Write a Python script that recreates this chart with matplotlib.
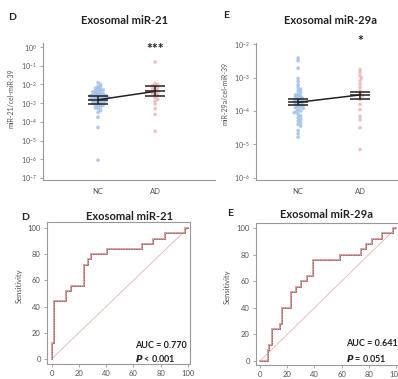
import numpy as np
import matplotlib
matplotlib.use('Agg')
import matplotlib.pyplot as plt
from matplotlib.ticker import FixedLocator, FuncFormatter, NullLocator

plt.rcParams['font.family'] = ['Lato', 'DejaVu Sans']

W, H = 398, 379

# ---------------- data ----------------
groups = ['NC', 'AD']

# exosomal miR-21 / cel-miR-39 (log10 values)
mir21_nc_log = [-1.9, -2.0, -2.1, -2.15, -2.2, -2.25, -2.3, -2.3, -2.35, -2.4, -2.4, -2.45,
                -2.5, -2.5, -2.55, -2.55, -2.6, -2.6, -2.6, -2.65, -2.65, -2.7, -2.7, -2.7,
                -2.75, -2.75, -2.8, -2.8, -2.8, -2.85, -2.85, -2.9, -2.9, -2.95, -2.95,
                -3.0, -3.0, -3.05, -3.1, -3.1, -3.15, -3.2, -3.25, -3.3, -3.4, -3.5,
                -3.75, -4.3, -6.05]
mir21_ad_log = [-0.8, -1.95, -2.0, -2.05, -2.1, -2.15, -2.2, -2.25, -2.3, -2.35, -2.4,
                -2.45, -2.5, -2.55, -2.6, -2.7, -2.8, -2.9, -3.05, -3.3, -3.6, -4.5]
mir21_mean_log = [-2.82, -2.37]
mir21_lo_log = [-3.04, -2.63]
mir21_hi_log = [-2.64, -2.10]

# exosomal miR-29a / cel-miR-39 (log10 values)
mir29a_nc_log = [-2.42, -2.5, -2.72, -3.03, -3.12, -3.22, -3.3, -3.35, -3.4, -3.45, -3.5,
                 -3.52, -3.55, -3.58, -3.6, -3.62, -3.65, -3.68, -3.7, -3.72, -3.75, -3.78,
                 -3.8, -3.82, -3.85, -3.88, -3.9, -3.92, -3.95, -4.0, -4.02, -4.05, -4.1,
                 -4.15, -4.2, -4.25, -4.3, -4.35, -4.4, -4.45, -4.58, -4.68, -4.78]
mir29a_ad_log = [-2.77, -2.85, -2.95, -3.02, -3.1, -3.2, -3.3, -3.4, -3.5, -3.55, -3.65,
                 -3.8, -3.96, -4.16, -4.26, -4.5, -5.15]
mir29a_mean_log = [-3.74, -3.52]
mir29a_lo_log = [-3.82, -3.65]
mir29a_hi_log = [-3.64, -3.42]

# ROC curves (100 - specificity, sensitivity)
roc21_fpr = [0, 0, 1.5, 1.5, 10.5, 10.5, 14, 14, 23.5, 23.5, 26.5, 26.5, 29, 29, 41, 41,
             66, 66, 74.5, 74.5, 83, 83, 97.5, 97.5, 100]
roc21_tpr = [0, 12, 12, 44, 44, 52, 52, 56, 56, 72, 72, 76, 76, 80, 80, 84,
             84, 88, 88, 92, 92, 96, 96, 100, 100]
roc29a_fpr = [0, 6, 6, 7, 7, 8.5, 8.5, 14.5, 14.5, 16, 16, 23, 23, 26.5, 26.5, 30, 30,
              34.5, 34.5, 39, 39, 59, 59, 74, 74, 78, 78, 82, 82, 90, 90, 97.5, 97.5, 100]
roc29a_tpr = [0, 0, 8, 8, 12, 12, 24, 24, 28, 28, 40, 40, 52, 52, 56, 56, 60,
              60, 64, 64, 76, 76, 80, 80, 84, 84, 88, 88, 92, 92, 96, 96, 100, 100]

auc21_text = ['AUC = 0.770', '$\\bfit{P}$ < 0.001']
auc29a_text = ['AUC = 0.641', '$\\bfit{P}$ = 0.051']
roc_ticks = [0, 20, 40, 60, 80, 100]

# ---------------- helpers ----------------
def fig_rect(x0, y0, x1, y1):
    return [x0 / W, 1 - y1 / H, (x1 - x0) / W, (y1 - y0) / H]

def swarm_px(ypx, d, step):
    """Deterministic beeswarm: offsets in pixels so points are >= d apart."""
    ypx = np.asarray(ypx, float)
    order = np.argsort(-ypx)
    placed = []
    offs = np.zeros(len(ypx))
    for i in order:
        cands = [0.0]
        for k in range(1, 30):
            cands += [k * step, -k * step]
        for c in cands:
            ok = all((c - px) ** 2 + (ypx[i] - py) ** 2 >= d * d for px, py in placed)
            if ok:
                offs[i] = c
                placed.append((c, ypx[i]))
                break
    return offs

GRAY = '#999999'
TXT = '#555555'

def sci_fmt(v, pos):
    e = int(round(np.log10(v)))
    return '$\\mathdefault{10^{%d}}$' % e

fig = plt.figure(figsize=(W / 100, H / 100), dpi=100)

def scatter_panel(rect, xlim, ylog, nc, ad, mean, lo, hi, decs, ylabel, ylab_xy, star, star_y):
    ax = fig.add_axes(rect)
    ax.set_yscale('log')
    ax.set_xlim(*xlim)
    ax.set_ylim(10 ** ylog[0], 10 ** ylog[1])
    px_per_dec = rect[3] * H / (ylog[1] - ylog[0])
    unit_px = rect[2] * W / (xlim[1] - xlim[0])
    for i, (vals, col) in enumerate([(nc, '#8fb4e3'), (ad, '#e8a9ab')]):
        ypx = np.asarray(vals) * px_per_dec
        offs = swarm_px(ypx, 2.6, 1.3) / unit_px
        ax.scatter(i + offs, 10 ** np.asarray(vals), s=7, color=col, alpha=0.7,
                   edgecolors='none', zorder=2)
    xs = np.arange(len(groups))
    ax.plot(xs, 10 ** np.asarray(mean), color='#222222', lw=1.1, zorder=4)
    hw = 10.0 / unit_px
    for i in range(len(groups)):
        ax.vlines(i, 10 ** lo[i], 10 ** hi[i], color='#222222', lw=1.1, zorder=4)
        ax.hlines([10 ** lo[i], 10 ** mean[i], 10 ** hi[i]], i - hw, i + hw,
                  color='#222222', lw=1.1, zorder=4)
    ax.yaxis.set_major_locator(FixedLocator([10.0 ** d for d in decs]))
    ax.yaxis.set_major_formatter(FuncFormatter(sci_fmt))
    ax.yaxis.set_minor_locator(NullLocator())
    ax.set_xticks(xs)
    ax.set_xticklabels(groups)
    for s in ['top', 'right']:
        ax.spines[s].set_visible(False)
    for s in ['left', 'bottom']:
        ax.spines[s].set_color(GRAY)
        ax.spines[s].set_linewidth(0.8)
    ax.tick_params(axis='y', length=2.5, width=0.6, color=GRAY, labelcolor=TXT,
                   labelsize=5, pad=2)
    ax.tick_params(axis='x', length=0, labelcolor=TXT, labelsize=5.5, pad=6)
    ax.set_ylabel(ylabel, fontsize=5, color=TXT)
    ax.yaxis.set_label_coords(*ylab_xy)
    ax.text(1, 10 ** star_y, star, ha='center', va='center', fontsize=10,
            fontweight='bold', color='#222222', clip_on=False)
    return ax

scatter_panel(fig_rect(43, 43, 215, 180), (-0.965, 2.05), (-7.107, 0.214),
              mir21_nc_log, mir21_ad_log, mir21_mean_log, mir21_lo_log, mir21_hi_log,
              range(-7, 1), 'miR-21/cel-miR-39', (-0.165, 0.60), '***', -0.12)
scatter_panel(fig_rect(256, 43, 400, 180), (-0.68, 1.645), (-6.06, -1.97),
              mir29a_nc_log, mir29a_ad_log, mir29a_mean_log, mir29a_lo_log, mir29a_hi_log,
              range(-6, -1), 'miR-29a/cel-miR-39', (-0.19, 0.63), '*', -1.90)

def roc_panel(rect, xlim, ylim, fpr, tpr, texts, tx, ty, ylab_x):
    ax = fig.add_axes(rect)
    ax.set_xlim(*xlim)
    ax.set_ylim(*ylim)
    ax.plot([0, 100], [0, 100], color='#e9b3b3', lw=0.6, zorder=1)
    ax.plot(fpr, tpr, color='#d7a4a4', lw=1.4, zorder=2, solid_joinstyle='miter')
    ax.plot(fpr, tpr, color='#8c3d3d', lw=0.7, zorder=3, linestyle=(0, (0.7, 1.0)))
    ax.set_xticks(roc_ticks)
    ax.set_yticks(roc_ticks)
    for s in ax.spines.values():
        s.set_color(GRAY)
        s.set_linewidth(0.8)
    ax.tick_params(length=2.5, width=0.6, color=GRAY, labelcolor=TXT, labelsize=5.5, pad=2)
    ax.set_ylabel('Sensitivity', fontsize=5.5, color=TXT)
    ax.yaxis.set_label_coords(ylab_x, 0.55)
    for t, y in zip(texts, ty):
        fig.text(tx / W, 1 - y / H, t, fontsize=6.5, fontweight='bold', color='#222222',
                 ha='left', va='center')
    return ax

roc_panel(fig_rect(47, 222, 190, 364), (-3.3, 101.5), (-3.8, 104.6),
          roc21_fpr, roc21_tpr, auc21_text, 135, [346, 358], -0.17)
roc_panel(fig_rect(256, 223, 402, 365), (-2.9, 104.4), (-3.0, 103.8),
          roc29a_fpr, roc29a_tpr, auc29a_text, 346, [344, 358], -0.17)

# titles and panel letters
def ftext(x, y, s, size, ha='center'):
    fig.text(x / W, 1 - y / H, s, fontsize=size, fontweight='bold', color='#222222',
             ha=ha, va='center')

ftext(125, 21, 'Exosomal miR-21', 8)
ftext(331, 21, 'Exosomal miR-29a', 8)
ftext(130, 217, 'Exosomal miR-21', 8)
ftext(327, 215, 'Exosomal miR-29a', 8)
ftext(12, 17, 'D', 7.5)
ftext(226, 16, 'E', 7.5)
ftext(25, 217, 'D', 7.5)
ftext(230, 214, 'E', 7.5)

fig.savefig('out.png', dpi=100)
